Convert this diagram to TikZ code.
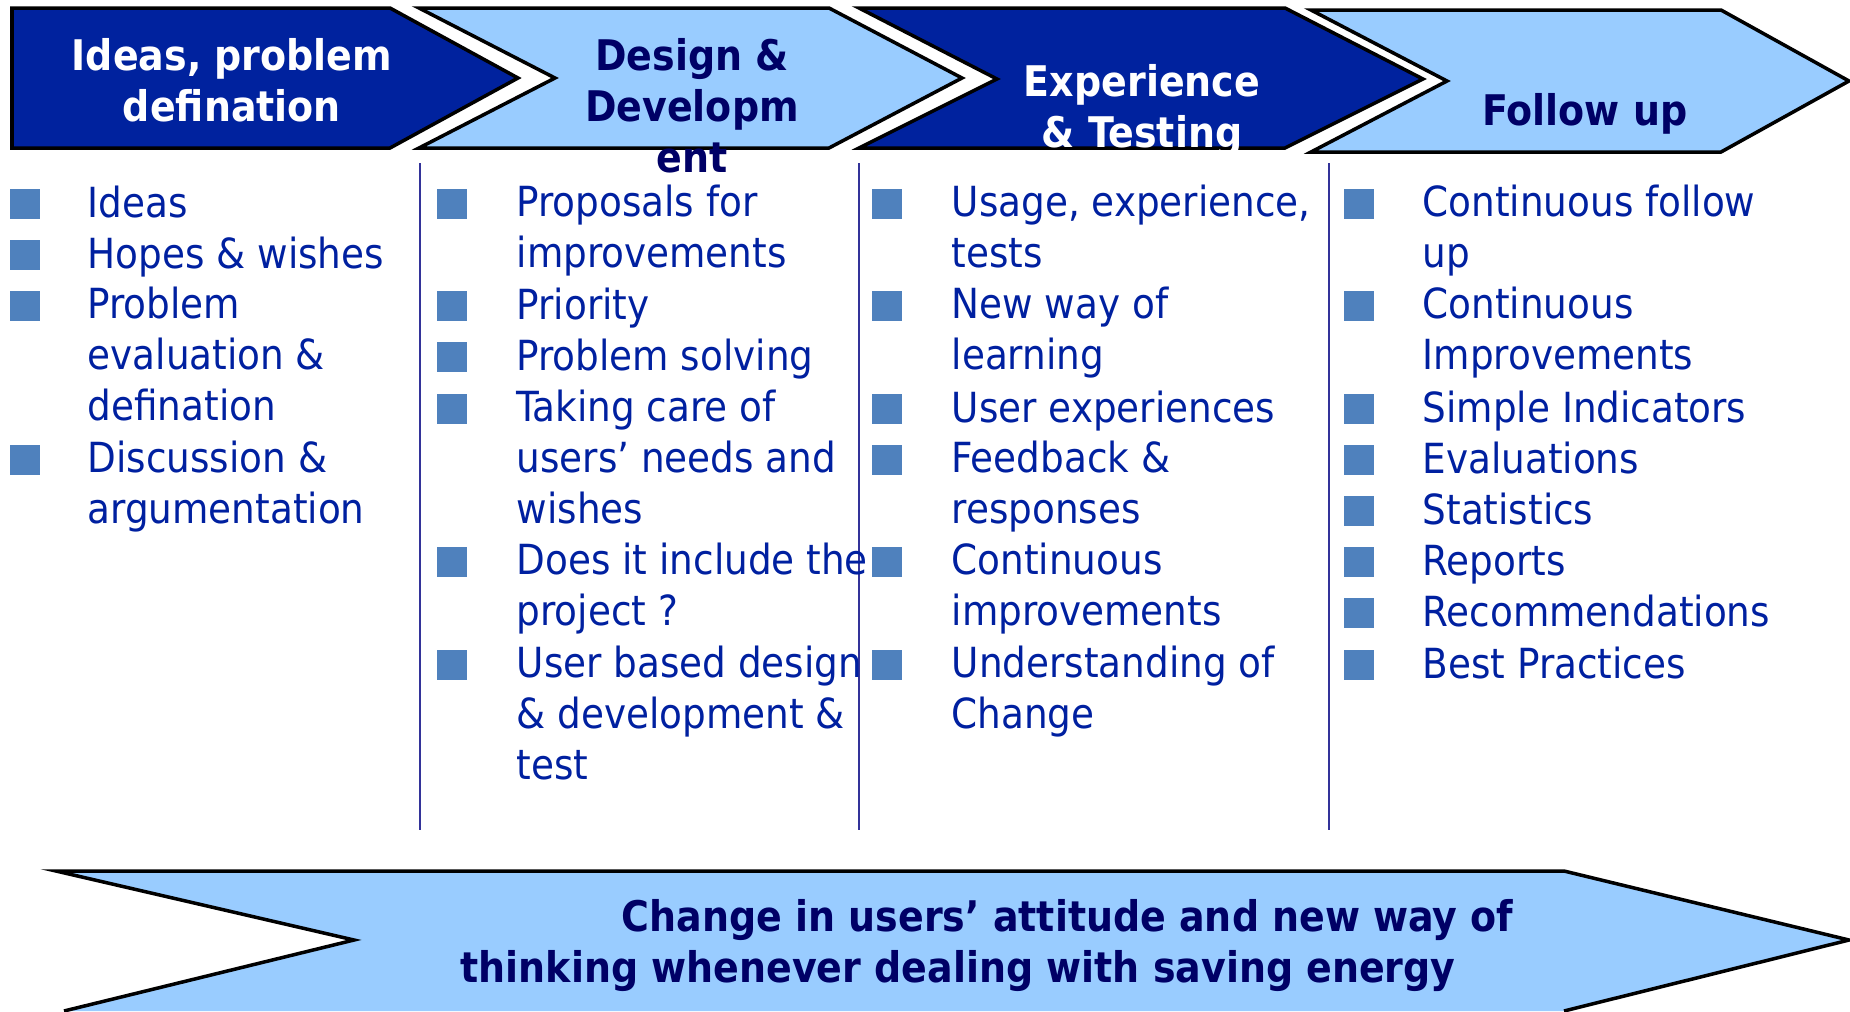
\documentclass[tikz,border=0pt]{standalone}
\usepackage{fontspec}
\setmainfont{DejaVu Sans Condensed}
\usetikzlibrary{positioning}
\definecolor{hdrdark}{RGB}{0,34,158}
\definecolor{hdrlight}{RGB}{153,204,255}
\definecolor{navy}{RGB}{0,0,102}
\definecolor{itemblue}{RGB}{0,32,160}
\definecolor{bulletblue}{RGB}{79,129,189}
\definecolor{sepblue}{RGB}{51,51,153}
\begin{document}
\begin{tikzpicture}[x=0.01cm, y=-0.01cm]
    \tikzstyle{hdr} = [draw=black, line width=1pt, line join=miter]
    \tikzstyle{htxt} = [inner sep=0pt, align=center, font=\fontsize{12}{14.5}\selectfont\bfseries, execute at begin node=\strut]
    \tikzstyle{itm} = [anchor=north west, inner sep=0pt, align=left, text=itemblue, font=\fontsize{11.8}{14.57}\selectfont, execute at begin node=\strut]
    \tikzstyle{bul} = [rectangle, fill=bulletblue, minimum size=0.3cm, inner sep=0pt]
    \tikzstyle{sep} = [draw=sepblue, line width=0.7pt]
    \useasboundingbox (0,0) rectangle (1850,1011);

    % phase arrows
    \draw [hdr, fill=hdrdark] (12,8) -- (390,8) -- (518,78) -- (390,148) -- (12,148) -- cycle;
    \draw [hdr, fill=hdrlight] (419,8) -- (829,8) -- (962,78) -- (829,148) -- (419,148) -- (555,78) -- cycle;
    \draw [hdr, fill=hdrdark] (859,8) -- (1285,8) -- (1423,79) -- (1285,148) -- (859,148) -- (997,79) -- cycle;
    \draw [hdr, fill=hdrlight] (1311,10) -- (1721,10) -- (1849,81) -- (1721,152) -- (1311,152) -- (1447,81) -- cycle;

    \node [htxt, anchor=north, text=white] (h1) at (232,38) {Ideas, problem\\defination};
    \node [htxt, anchor=north, text=navy] (h2) at (692,38) {Design \&\\Developm\\ent};
    \node [htxt, anchor=north, text=white] (h3) at (1142,64) {Experience\\\& Testing};
    \node [htxt, anchor=north, text=navy] (h4) at (1585,89) {Follow up};

    % column rules
    \draw [sep] (420,163) -- (420,830);
    \draw [sep] (859,163) -- (859,830);
    \draw [sep] (1329,163) -- (1329,830);

    % column 1
    \node [itm] (t11) at (87,180.5) {Ideas};
    \node [itm] (t12) at (87,231.5) {Hopes \& wishes};
    \node [itm] (t13) at (87,286) {Problem\\evaluation \&\\defination};
    \node [itm] (t14) at (87,440) {Discussion \&\\argumentation};
    \node [bul, below left=0.075cm and 0.46cm of t11.north west] (b11) {};
    \node [bul, below left=0.075cm and 0.46cm of t12.north west] (b12) {};
    \node [bul, below left=0.04cm and 0.46cm of t13.north west] (b13) {};
    \node [bul, below left=0.04cm and 0.46cm of t14.north west] (b14) {};

    % column 2
    \node [itm] (t21) at (516,184) {Proposals for\\improvements};
    \node [itm] (t22) at (516,282.5) {Priority};
    \node [itm] (t23) at (516,333.5) {Problem solving};
    \node [itm] (t24) at (516,389) {Taking care of\\users’ needs and\\wishes};
    \node [itm] (t25) at (516,542) {Does it include the\\project ?};
    \node [itm] (t26) at (516,645) {User based design\\\& development \&\\test};
    \node [bul, below left=0.04cm and 0.48cm of t21.north west] (b21) {};
    \node [bul, below left=0.075cm and 0.48cm of t22.north west] (b22) {};
    \node [bul, below left=0.075cm and 0.48cm of t23.north west] (b23) {};
    \node [bul, below left=0.04cm and 0.48cm of t24.north west] (b24) {};
    \node [bul, below left=0.04cm and 0.48cm of t25.north west] (b25) {};
    \node [bul, below left=0.04cm and 0.48cm of t26.north west] (b26) {};

    % column 3
    \node [itm] (t31) at (951,184) {Usage, experience,\\tests};
    \node [itm] (t32) at (951,286) {New way of\\learning};
    \node [itm] (t33) at (951,385.5) {User experiences};
    \node [itm] (t34) at (951,440) {Feedback \&\\responses};
    \node [itm] (t35) at (951,542) {Continuous\\improvements};
    \node [itm] (t36) at (951,645) {Understanding of\\Change};
    \node [bul, below left=0.04cm and 0.48cm of t31.north west] (b31) {};
    \node [bul, below left=0.04cm and 0.48cm of t32.north west] (b32) {};
    \node [bul, below left=0.075cm and 0.48cm of t33.north west] (b33) {};
    \node [bul, below left=0.04cm and 0.48cm of t34.north west] (b34) {};
    \node [bul, below left=0.04cm and 0.48cm of t35.north west] (b35) {};
    \node [bul, below left=0.04cm and 0.48cm of t36.north west] (b36) {};

    % column 4
    \node [itm] (t41) at (1422,184) {Continuous follow\\up};
    \node [itm] (t42) at (1422,286) {Continuous\\Improvements};
    \node [itm] (t43) at (1422,385.5) {Simple Indicators};
    \node [itm] (t44) at (1422,436.5) {Evaluations};
    \node [itm] (t45) at (1422,487.5) {Statistics};
    \node [itm] (t46) at (1422,538.5) {Reports};
    \node [itm] (t47) at (1422,589.5) {Recommendations};
    \node [itm] (t48) at (1422,641.5) {Best Practices};
    \node [bul, below left=0.04cm and 0.47cm of t41.north west] (b41) {};
    \node [bul, below left=0.04cm and 0.47cm of t42.north west] (b42) {};
    \node [bul, below left=0.075cm and 0.47cm of t43.north west] (b43) {};
    \node [bul, below left=0.075cm and 0.47cm of t44.north west] (b44) {};
    \node [bul, below left=0.075cm and 0.47cm of t45.north west] (b45) {};
    \node [bul, below left=0.075cm and 0.47cm of t46.north west] (b46) {};
    \node [bul, below left=0.075cm and 0.47cm of t47.north west] (b47) {};
    \node [bul, below left=0.075cm and 0.47cm of t48.north west] (b48) {};

    % goal arrow
    \fill [hdrlight] (64,1011) -- (354,940) -- (56,871) -- (1564,871) -- (1849,940) -- (1564,1011) -- cycle;
    \draw [hdr] (64,1011) -- (354,940) -- (56,871) -- (1564,871) -- (1849,940) -- (1564,1011);
    \node [htxt, anchor=north west, align=left, text=navy] (goal) at (460,899) {\hspace*{1.61cm}Change in users’ attitude and new way of\\thinking whenever dealing with saving energy};
\end{tikzpicture}
\end{document}
